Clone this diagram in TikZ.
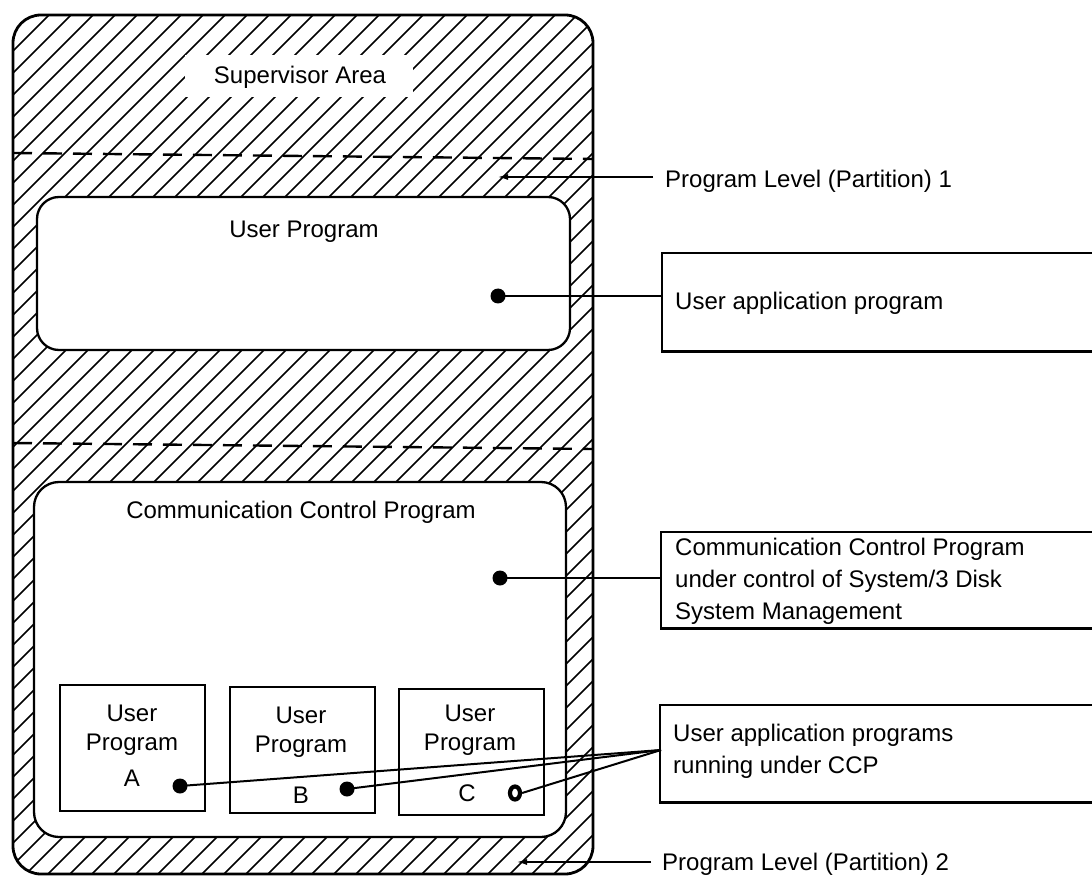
\documentclass[tikz,border=0pt]{standalone}
\usepackage{fontspec}
\setmainfont{Liberation Sans}
\usetikzlibrary{arrows.meta,shapes.geometric}
\begin{document}
\begin{tikzpicture}[x=1pt,y=-1pt,
  every node/.style={font=\fontsize{24}{32}\selectfont, inner sep=0pt},
  hatch/.style={line width=1.6pt},
  frame/.style={draw, line width=2.3pt},
  partline/.style={line width=2.4pt, dash pattern=on 19pt off 11pt},
  conn/.style={line width=2pt},
  arr/.style={line width=2pt, -{Latex[length=11pt,width=6pt]}},
  bigdot/.style={circle, fill, inner sep=0pt, minimum size=15pt},
  txtbox/.style={draw=none, rectangle, anchor=north west},
  smallbox/.style={draw, line width=2pt, rectangle, anchor=north west, minimum width=145pt, minimum height=126pt}
]
\useasboundingbox (0,0) rectangle (1092,877);
% hatched outer area
\begin{scope}
  \clip[rounded corners=28pt] (13,15) rectangle (593,874);
  \foreach \i in {-42,...,28} \draw[hatch] (\i*22,900) -- ++(950,-950);
\end{scope}
\draw[line width=2.8pt, rounded corners=28pt] (13,15) rectangle (593,874);
% supervisor label gap
\fill[white] (185,55) rectangle (413,97);
\node (sup) at (300,77) {Supervisor Area};
% partitions
\draw[partline] (13,153) -- (593,159);
\draw[partline] (13,443) -- (593,449);
% user program box
\draw[frame, fill=white, rounded corners=22pt] (37,197) rectangle (570,350);
\node (up) at (304,232) {User Program};
% CCP box
\draw[frame, fill=white, rounded corners=25pt] (34,482) rectangle (566,837);
\node (ccp) at (301,512) {Communication Control Program};
% small user boxes
\node[smallbox] (ba) at (59,684) {};
\node[smallbox] (bb) at (229,686) {};
\node[smallbox] (bc) at (398,688) {};
\node (ua) at (132,713) {User};
\node (pa) at (132,745) {Program};
\node (la) at (132,778) {A};
\node (ub) at (301,715) {User};
\node (pb) at (301,747) {Program};
\node (lb) at (301,795) {B};
\node (uc) at (470,713) {User};
\node (pc) at (470,745) {Program};
\node (lc) at (467,793) {C};
% dots
\node[bigdot] (d1) at (498,296) {};
\node[bigdot] (d2) at (500,578) {};
\node[bigdot] (dA) at (180,786) {};
\node[bigdot] (dB) at (347,789) {};
\node[ellipse, draw, line width=4.2pt, fill=white, inner sep=0pt, minimum width=10pt, minimum height=13pt] (dC) at (515,793) {};
% right boxes
\node[txtbox, minimum width=431pt, minimum height=98pt] (b1) at (662,253) {};
\draw[frame] (b1.north east) -- (b1.north west) -- (b1.south west) -- (b1.south east);
\node[anchor=west] (t1) at (675,303) {User application program};
\node[txtbox, minimum width=431pt, minimum height=96pt] (b2) at (661,532) {};
\draw[frame] (b2.north east) -- (b2.north west) -- (b2.south west) -- (b2.south east);
\node[anchor=west, align=left] (t2) at (675,581) {Communication Control Program\\under control of System/3 Disk\\System Management};
\node[txtbox, minimum width=432pt, minimum height=97pt] (b3) at (660,705) {};
\draw[frame] (b3.north east) -- (b3.north west) -- (b3.south west) -- (b3.south east);
\node[anchor=west, align=left] (t3) at (673,751) {User application programs\\running under CCP};
% connectors
\draw[conn] (d1.center) -- (d1.center -| b1.west);
\draw[conn] (d2.center) -- (d2.center -| b2.west);
\coordinate (cv) at (661,750);
\draw[conn] (dA.center) -- (cv);
\draw[conn] (dB.center) -- (cv);
\draw[conn] (dC.east) -- (cv);
% partition labels
\node[anchor=west, inner xsep=12pt] (p1) at (653,181) {Program Level (Partition) 1};
\coordinate (p1tip) at (497,177);
\draw[arr] (p1.west |- p1tip) -- (p1tip);
\node[anchor=west, inner xsep=11pt] (p2) at (651,864) {Program Level (Partition) 2};
\coordinate (p2tip) at (516,862);
\draw[arr] (p2.west |- p2tip) -- (p2tip);
\end{tikzpicture}
\end{document}
